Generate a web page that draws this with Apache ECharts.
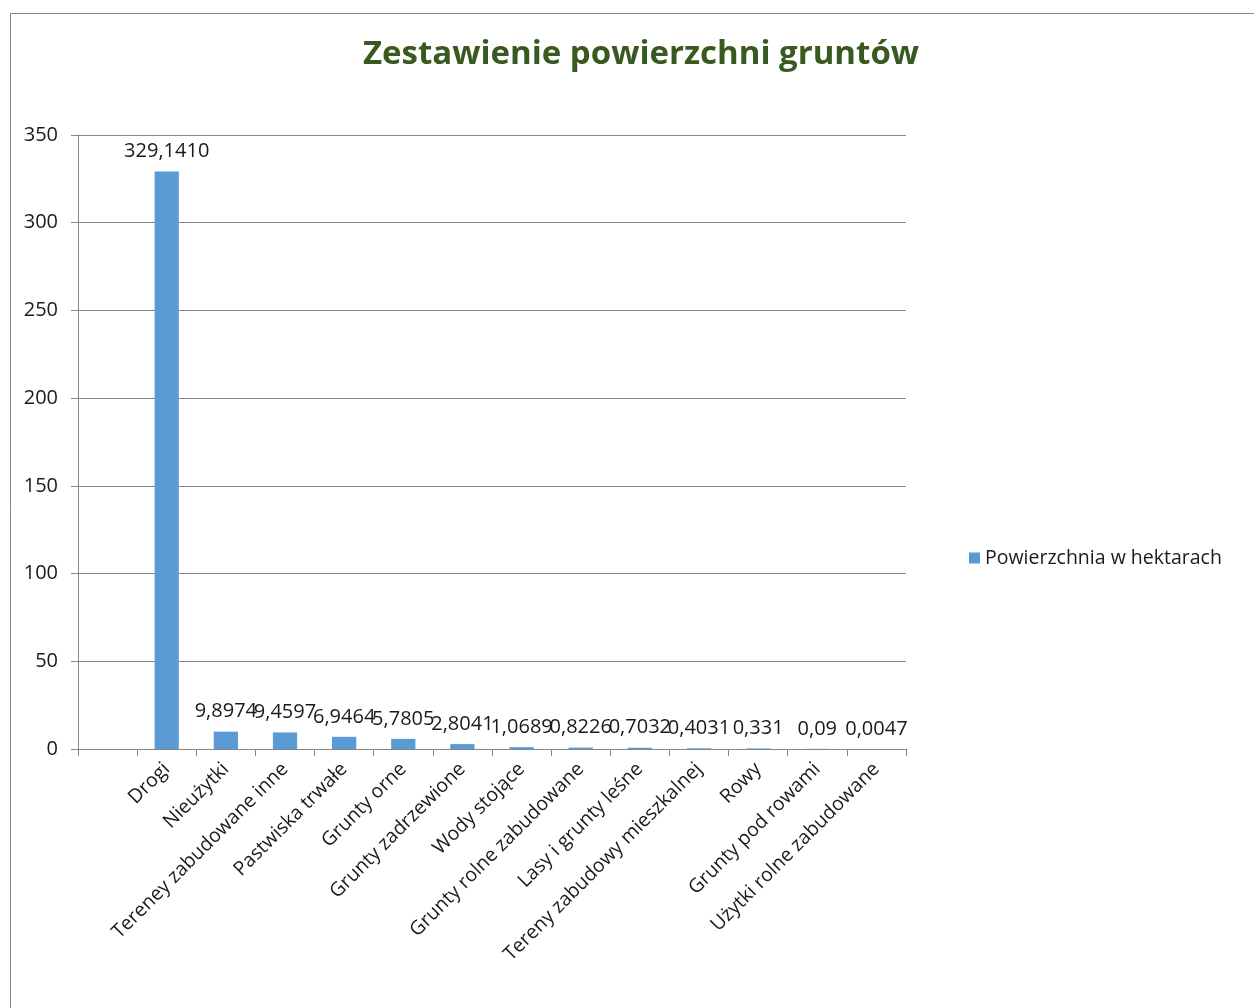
<!DOCTYPE html>
<html>
<head>
<meta charset="utf-8">
<script src="https://cdn.jsdelivr.net/npm/echarts@6/dist/echarts.min.js"></script>
<style>
html,body{margin:0;padding:0;background:#fff;}
#c{width:1254px;height:1008px;}
</style>
</head>
<body>
<div id="c"></div>
<script>
var categories = ['', 'Drogi', 'Nieużytki', 'Tereney zabudowane inne', 'Pastwiska trwałe', 'Grunty orne', 'Grunty zadrzewione', 'Wody stojące', 'Grunty rolne zabudowane', 'Lasy i grunty leśne', 'Tereny zabudowy mieszkalnej', 'Rowy', 'Grunty pod rowami', 'Użytki rolne zabudowane'];
var values = [null, 329.1410, 9.8974, 9.4597, 6.9464, 5.7805, 2.8041, 1.0689, 0.8226, 0.7032, 0.4031, 0.331, 0.09, 0.0047];
var valueLabels = ['', '329,1410', '9,8974', '9,4597', '6,9464', '5,7805', '2,8041', '1,0689', '0,8226', '0,7032', '0,4031', '0,331', '0,09', '0,0047'];
var yTicks = [0, 50, 100, 150, 200, 250, 300, 350];
var seriesName = 'Powierzchnia w hektarach';
var titleText = 'Zestawienie powierzchni gruntów';

var FONT = 'Open Sans';
var chart = echarts.init(document.getElementById('c'), null, {renderer: 'canvas'});
chart.setOption({
  backgroundColor: '#fff',
  animation: false,
  graphic: [{
    type: 'rect', z: -1,
    shape: {x: 10.5, y: 13.5, width: 1300, height: 1100},
    style: {fill: 'none', stroke: '#868686', lineWidth: 1}
  }],
  title: {
    text: titleText, left: 636, top: 33, textAlign: 'center',
    textStyle: {fontFamily: FONT, fontSize: 33, fontWeight: 'bold', color: '#385A20'}
  },
  legend: {
    left: 964, top: 543, icon: 'rect', itemWidth: 11, itemHeight: 11, itemGap: 6,
    textStyle: {fontFamily: FONT, fontSize: 19.5, color: '#1a1a1a'},
    data: [seriesName]
  },
  grid: {left: 78, right: 348, top: 135, bottom: 259, containLabel: false},
  xAxis: {
    type: 'category', data: categories,
    axisLine: {lineStyle: {color: '#868686', width: 1}},
    axisTick: {show: true, length: 7, alignWithLabel: false, lineStyle: {color: '#868686'}},
    axisLabel: {interval: 0, rotate: 45, margin: 17, fontFamily: FONT, fontSize: 19.5, color: '#1a1a1a'}
  },
  yAxis: {
    type: 'value', min: 0, max: 350, interval: 50,
    axisLine: {show: true, lineStyle: {color: '#868686', width: 1}},
    axisTick: {show: true, length: 7, lineStyle: {color: '#868686'}},
    splitLine: {lineStyle: {color: '#868686', width: 1}},
    axisLabel: {margin: 20, fontFamily: FONT, fontSize: 20, color: '#1a1a1a',
      formatter: function (v) { return yTicks.indexOf(v) >= 0 ? String(v) : ''; }}
  },
  series: [{
    name: seriesName, type: 'bar', data: values, barWidth: '41%',
    itemStyle: {color: '#5B9BD5'},
    label: {show: true, position: 'top', distance: 10, fontFamily: FONT, fontSize: 20, color: '#1a1a1a',
      formatter: function (p) { return valueLabels[p.dataIndex]; }}
  }]
});
</script>
</body>
</html>
